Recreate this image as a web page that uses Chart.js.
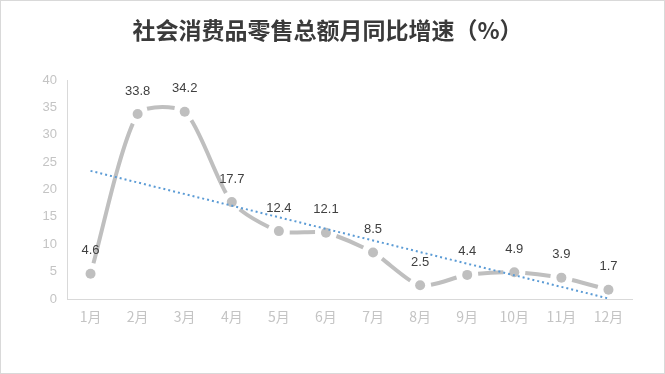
<!DOCTYPE html>
<html>
<head>
<meta charset="utf-8">
<script src="https://cdn.jsdelivr.net/npm/chart.js@4/dist/chart.umd.min.js"></script>
<style>
  html, body { margin: 0; padding: 0; background: #fff; }
  #wrap { width: 663px; height: 372px; border: 1px solid #D9D9D9; position: relative; }
</style>
</head>
<body>
<div id="wrap"><canvas id="growthChart" width="663" height="372"></canvas></div>
<script>
// data
const months = ["1月", "2月", "3月", "4月", "5月", "6月", "7月", "8月", "9月", "10月", "11月", "12月"];
const growth = [4.6, 33.8, 34.2, 17.7, 12.4, 12.1, 8.5, 2.5, 4.4, 4.9, 3.9, 1.7];
// linear trend line: only its two end values, as seen in the picture
const trendEnds = [23.4, 0.1];
const yTicks = [0, 5, 10, 15, 20, 25, 30, 35, 40];
const titleText = "社会消费品零售总额月同比增速（%）";

const CJK = "'Noto Sans CJK SC', 'Noto Sans', sans-serif";
const LATIN = "'Liberation Sans', Arial, sans-serif";
const GREY = "#BFBFBF";

const trendData = months.map((m, i) =>
  i === 0 ? trendEnds[0] : (i === months.length - 1 ? trendEnds[1] : null));

// length of the drawn bezier between two points
function curveLength(a, b) {
  const x1 = a.cp2x ?? a.x, y1 = a.cp2y ?? a.y;
  const x2 = b.cp1x ?? b.x, y2 = b.cp1y ?? b.y;
  let len = 0, px = a.x, py = a.y;
  for (let i = 1; i <= 40; i++) {
    const t = i / 40, u = 1 - t;
    const x = u*u*u*a.x + 3*u*u*t*x1 + 3*u*t*t*x2 + t*t*t*b.x;
    const y = u*u*u*a.y + 3*u*u*t*y1 + 3*u*t*t*y2 + t*t*t*b.y;
    len += Math.hypot(x - px, y - py);
    px = x; py = y;
  }
  return len;
}

// Excel-ish long dash: each segment gets a gap next to both markers
const GAP = 11;
function segmentDash(ctx) {
  const len = curveLength(ctx.p0, ctx.p1);
  return [0, GAP, Math.max(len - 2 * GAP, 2), GAP + 60];
}

// value labels above each point + centred title
const decorations = {
  id: "decorations",
  afterDatasetsDraw(chart) {
    const meta = chart.getDatasetMeta(0);
    const ctx = chart.ctx;
    ctx.save();
    ctx.font = "13px " + LATIN;
    ctx.fillStyle = "#404040";
    ctx.textAlign = "center";
    ctx.textBaseline = "middle";
    meta.data.forEach((pt, i) => {
      ctx.fillText(growth[i].toFixed(1), pt.x, pt.y - 23);
    });
    ctx.font = "bold 23px " + CJK;
    ctx.fillStyle = "#3A3A3A";
    ctx.fillText(titleText, chart.width / 2 - 5, 29);
    ctx.restore();
  }
};

new Chart(document.getElementById("growthChart"), {
  type: "line",
  data: {
    labels: months,
    datasets: [
      {
        label: "同比增速",
        data: growth,
        borderColor: GREY,
        borderWidth: 4,
        borderCapStyle: "butt",
        segment: { borderDash: segmentDash },
        tension: 0.24,
        pointRadius: 5,
        pointBackgroundColor: GREY,
        pointBorderColor: GREY,
        pointBorderWidth: 0,
        order: 2,
      },
      {
        label: "线性趋势",
        data: trendData,
        spanGaps: true,
        borderColor: "#5B9BD5",
        borderWidth: 2,
        borderDash: [2, 3],
        pointRadius: 0,
        tension: 0,
        order: 1,
      },
    ],
  },
  options: {
    responsive: false,
    animation: false,
    layout: { padding: { left: 0, right: 32, top: 79, bottom: 30 } },
    plugins: {
      legend: { display: false },
      tooltip: { enabled: false },
      title: { display: false },
    },
    scales: {
      x: {
        offset: true,
        grid: { display: false },
        border: { display: true, color: "#D9D9D9", width: 1 },
        ticks: { color: "#C4C4C4", font: { family: CJK, size: 14 }, padding: 1 },
        afterFit: s => { s.height = 44; },
      },
      y: {
        min: 0,
        max: 40,
        afterBuildTicks: s => { s.ticks = yTicks.map(v => ({ value: v })); },
        grid: { display: false },
        border: { display: true, color: "#D9D9D9", width: 1 },
        ticks: { color: "#C4C4C4", font: { family: LATIN, size: 13 }, padding: 2 },
        afterFit: s => { s.width = 66; },
      },
    },
  },
  plugins: [decorations],
});
</script>
</body>
</html>
